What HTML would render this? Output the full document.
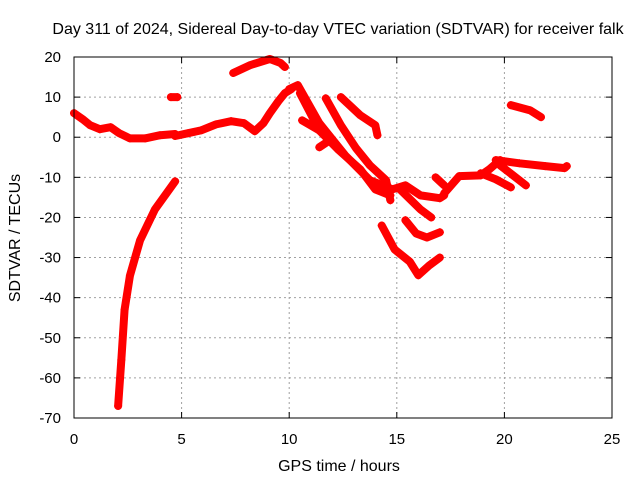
<!DOCTYPE html>
<html><head><meta charset="utf-8"><style>
body{margin:0;background:#fff}
svg{display:block;font-family:"Liberation Sans",sans-serif}
</style></head><body>
<svg id="chart" width="640" height="480">
<text x="338" y="34" font-size="16" text-anchor="middle">Day 311 of 2024, Sidereal Day-to-day VTEC variation (SDTVAR) for receiver falk</text>
<text x="339" y="471" font-size="16" text-anchor="middle">GPS time / hours</text>
<text transform="translate(20,238) rotate(-90)" font-size="16" text-anchor="middle">SDTVAR / TECUs</text>
<g id="grid"></g>
<g id="ticks"></g>
<g id="series"></g>
<rect x="74" y="57" width="538" height="361" fill="none" stroke="#000" stroke-width="1"/>
</svg>
<script>
const xTicks=[0,5,10,15,20,25];
const yTicks=[20,10,0,-10,-20,-30,-40,-50,-60,-70];
const tA=[0,0.4,0.75,1.2,1.7,2.1,2.6,3.3,4,4.7];
const vA=[6,4.5,3,2,2.5,1,-0.3,-0.3,0.5,0.8];
const tB=[4.7,5.3,5.9,6.6,7.3,7.9,8.4,8.8,9.1,9.5,9.8,10.1];
const vB=[0.3,1,1.7,3.2,4,3.5,1.5,3.5,6,9,11,12];
const tC=[7.4,8.2,9.1,9.6,9.8];
const vC=[16,18,19.5,18.5,17.5];
const tD=[4.5,4.8];
const vD=[10,10];
const tE=[2.05,2.2,2.35,2.6,3.07,3.76,4.7];
const vE=[-67,-55.5,-43,-34.5,-25.7,-18,-11];
const tF1=[10,10.4,11.4,12.6,13.75,14.8,15.4,16.1,17,17.2];
const vF1=[12,13,3.5,-4.5,-10.7,-13,-12,-14.5,-15.2,-14.5];
const tF2=[10.5,11.4,12.3,13.3,14,14.7];
const vF2=[11,1.7,-3.2,-8,-13,-14.5];
const tG=[11.7,12.4,13.1,13.75,14.5,14.7];
const vG=[9.7,3,-2.7,-7,-10.7,-15.7];
const tH=[12.4,13.3,14,14.1];
const vH=[10,5.5,3,0.5];
const tI=[10.6,11.4,11.9,11.4];
const vI=[4.2,1.7,-0.7,-2.5];
const tJ=[15.15,16.1,16.6];
const vJ=[-13,-18,-20];
const tK=[15.4,15.9,16.4,17];
const vK=[-20.7,-24,-25,-23.7];
const tL=[14.3,14.9,15.6,16,16.5,17];
const vL=[-22,-28,-31,-34.4,-32,-30];
const tM=[16.8,17.2];
const vM=[-10,-12];
const tN=[17.2,17.9,18.9,19.3,19.8];
const vN=[-14,-9.7,-9.5,-8,-5.7];
const tO=[18.9,19.6,20.3];
const vO=[-9,-10.5,-12.5];
const tO2=[19.8,20.4,21];
const vO2=[-7,-9.5,-12];
const tP=[19.6,20.7,21.9,22.8,22.9];
const vP=[-5.7,-6.5,-7.2,-7.7,-7.2];
const tQ=[20.3,21.2,21.7];
const vQ=[8,6.7,5];
const tracks=[[tA,vA],[tB,vB],[tC,vC],[tD,vD],[tE,vE],[tF1,vF1],[tF2,vF2],[tG,vG],[tH,vH],[tI,vI],[tJ,vJ],[tK,vK],[tL,vL],[tM,vM],[tN,vN],[tO,vO],[tO2,vO2],[tP,vP],[tQ,vQ]];

const NS="http://www.w3.org/2000/svg";
const X0=74,X1=612,Y0=418,Y1=57;
function xs(t){return X0+(t-0)/(25-0)*(X1-X0);}
function ys(v){return Y0-(v-(-70))/(20-(-70))*(Y0-Y1);}
function mk(tag,attrs,parent){const e=document.createElementNS(NS,tag);for(const k in attrs)e.setAttribute(k,attrs[k]);parent.appendChild(e);return e;}
const grid=document.getElementById('grid'),ticks=document.getElementById('ticks'),ser=document.getElementById('series');
xTicks.forEach(t=>{
  const x=xs(t);
  if(t>0&&t<25){const l=mk('line',{x1:x,x2:x,y1:Y1,y2:Y0,stroke:'#a0a0a0','stroke-dasharray':'2,3'},grid);
  
  }
  mk('line',{x1:x,x2:x,y1:Y0,y2:Y0-6,stroke:'#000'},ticks);
  mk('line',{x1:x,x2:x,y1:Y1,y2:Y1+6,stroke:'#000'},ticks);
  const tx=mk('text',{x:x,y:Y0+26,'font-size':15,'text-anchor':'middle'},ticks);
  tx.textContent=t;
  
  
});
yTicks.forEach(v=>{
  const y=ys(v);
  if(v<20&&v>-70){const l=mk('line',{x1:X0,x2:X1,y1:y,y2:y,stroke:'#a0a0a0','stroke-dasharray':'2,3'},grid);
  
  }
  mk('line',{x1:X0,x2:X0+6,y1:y,y2:y,stroke:'#000'},ticks);
  mk('line',{x1:X1,x2:X1-6,y1:y,y2:y,stroke:'#000'},ticks);
  const tx=mk('text',{x:X0-13,y:y+5,'font-size':15,'text-anchor':'end'},ticks);
  tx.textContent=v;
  
  
});
tracks.forEach(([ts,vs])=>{
  const pts=ts.map((t,i)=>xs(t)+','+ys(vs[i])).join(' ');
  const pl=mk('polyline',{points:pts,fill:'none',stroke:'#f00','stroke-width':8,'stroke-linejoin':'round','stroke-linecap':'round'},ser);
  
  
  ts.forEach((t,i)=>{
    const x=xs(t),y=ys(vs[i]);
    const p=mk('path',{d:`M${x-4},${y}H${x+4}M${x},${y-4}V${y+4}`,stroke:'#f00','stroke-width':1.2},ser);
    
    
  });
});
</script>
</body></html>
